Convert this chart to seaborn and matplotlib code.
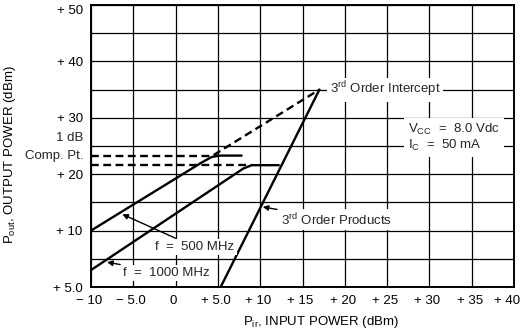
import matplotlib
matplotlib.use("Agg")
import matplotlib.pyplot as plt
import matplotlib.transforms as mtransforms
import seaborn as sns
import pandas as pd

# Input / output power curves (dBm)
pin_500 = [-10.0, 3.0, 4.2, 5.0, 7.8]
pout_500 = [10.0, 22.0, 23.0, 23.3, 23.3]

pin_1000 = [-10.0, 8.0, 9.0, 12.2]
pout_1000 = [3.0, 21.0, 21.6, 21.6]

# Third-order products and extrapolation to the intercept
pin_3rd = [5.33, 17.0]
pout_3rd = [0.0, 35.0]
pin_ext = [4.5, 17.0]
pout_ext = [23.4, 35.0]

# 1 dB compression levels
comp_levels = [23.3, 21.6]
comp_ends = [5.0, 9.0]

x_ticks = [-10, -5, 0, 5, 10, 15, 20, 25, 30, 35, 40]
x_labels = ["\u2212 10", "\u2212 5.0", "0", "+ 5.0", "+ 10", "+ 15", "+ 20",
            "+ 25", "+ 30", "+ 35", "+ 40"]
y_ticks = [0, 10, 20, 30, 40, 50]
y_labels = ["+ 5.0", "+ 10", "+ 20", "+ 30", "+ 40", "+ 50"]

sns.set_theme(style="white")
plt.rcParams["font.family"] = ["Liberation Sans", "DejaVu Sans"]
plt.rcParams["mathtext.fontset"] = "custom"
plt.rcParams["mathtext.rm"] = "Liberation Sans"
plt.rcParams["mathtext.it"] = "Liberation Sans"

fig = plt.figure(figsize=(5.26, 3.32), dpi=100)
ax = fig.add_axes([91 / 526, 45 / 332, 423 / 526, 282 / 332])

ax.set_xlim(-10, 40)
ax.set_ylim(0, 50)

# grid every 5 dB
for gx in range(-10, 41, 5):
    ax.axvline(gx, color="black", lw=0.9, zorder=1)
for gy in range(0, 51, 5):
    ax.axhline(gy, color="black", lw=0.9, zorder=1)

lw = 1.7
dash = (0, (3.3, 1.9))
curves = pd.DataFrame({
    "pin": pin_500 + pin_1000 + pin_3rd,
    "pout": pout_500 + pout_1000 + pout_3rd,
    "curve": ["500"] * len(pin_500) + ["1000"] * len(pin_1000) + ["3rd"] * len(pin_3rd),
})
sns.lineplot(data=curves, x="pin", y="pout", units="curve", estimator=None,
             sort=False, color="black", lw=lw, ax=ax, zorder=4)

ext = pd.DataFrame({"pin": pin_ext, "pout": pout_ext})
sns.lineplot(data=ext, x="pin", y="pout", color="black", lw=lw, ax=ax,
             linestyle=dash, zorder=4)
for lvl, xe in zip(comp_levels, comp_ends):
    d = pd.DataFrame({"pin": [-10, xe], "pout": [lvl, lvl]})
    sns.lineplot(data=d, x="pin", y="pout", color="black", lw=lw, ax=ax,
                 linestyle=dash, zorder=4)

ax.set_xticks(x_ticks)
ax.set_xticklabels(x_labels)
ax.set_yticks(y_ticks)
ax.set_yticklabels(y_labels)
ax.get_yticklabels()[-1].set_va("top")
ax.tick_params(axis="both", length=2, direction="out", labelsize=9.5,
               colors="black", pad=4)
xl = ax.get_xticklabels()
for i, t in enumerate(xl):
    dx = -7 if i == len(xl) - 1 else -2
    t.set_transform(t.get_transform() + mtransforms.ScaledTranslation(dx / 100, 0, fig.dpi_scale_trans))
for s in ax.spines.values():
    s.set_color("black")
    s.set_linewidth(1.4)
    s.set_zorder(5)

ax.set_xlabel(r"P$_{\rm ir}$, INPUT POWER (dBm)", fontsize=9.5, color="black")
ax.xaxis.set_label_coords(0.544, -0.095)
ax.set_ylabel(r"P$_{\rm out}$, OUTPUT POWER (dBm)", fontsize=9.5, color="black")
ax.yaxis.set_label_coords(-0.172, 0.47)

box = dict(facecolor="white", edgecolor="none", pad=1.5)
arrow = dict(arrowstyle="-|>", color="black", lw=1.0, mutation_scale=8,
             shrinkA=1, shrinkB=0)

ax.text(-0.018, 26.4, "1 dB", transform=ax.get_yaxis_transform(),
        ha="right", va="center", fontsize=9.5)
ax.text(-0.018, 23.2, "Comp. Pt.", transform=ax.get_yaxis_transform(),
        ha="right", va="center", fontsize=9.5)

ax.text(18.2, 35.0, r"3$^{\rm rd}$ Order Intercept", ha="left", va="center",
        fontsize=9.5, bbox=box, zorder=6)
ax.text(27.5, 26.5, "V$_{\\rm CC}$  =  8.0 Vdc\nI$_{\\rm C}$  =  50 mA",
        ha="left", va="center", fontsize=9.5, linespacing=1.1, bbox=dict(
            facecolor="white", edgecolor="none", pad=3), zorder=6)

ax.annotate(r"3$^{\rm rd}$ Order Products", xy=(10.3, 14.2), xytext=(12.4, 11.9),
            ha="left", va="center", fontsize=9.5, bbox=box, zorder=6,
            arrowprops=arrow)
ax.annotate("f  =  500 MHz", xy=(-6.3, 12.9), xytext=(-2.4, 7.1),
            ha="left", va="center", fontsize=9.5, bbox=box, zorder=6,
            arrowprops=arrow)
ax.annotate("f  =  1000 MHz", xy=(-8.1, 4.4), xytext=(-6.2, 2.5),
            ha="left", va="center", fontsize=9.5, bbox=box, zorder=6,
            arrowprops=arrow)

fig.savefig("out.png", dpi=100, facecolor="white")
